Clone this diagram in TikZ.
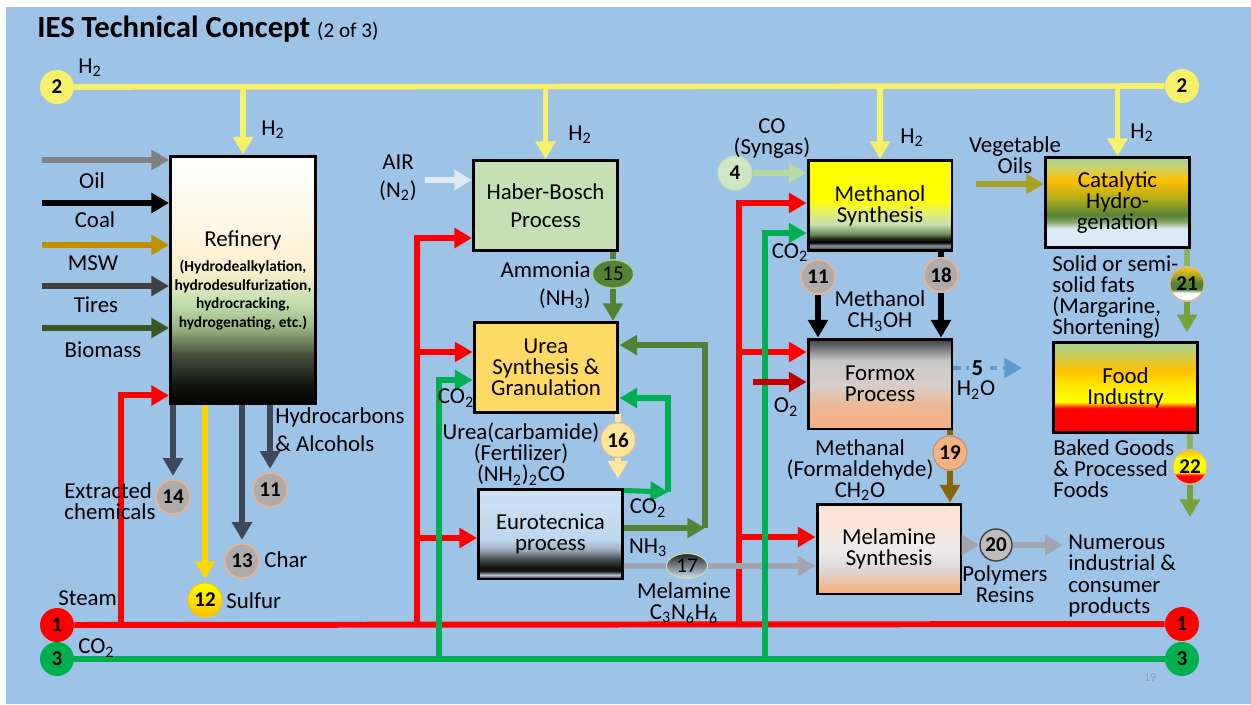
\documentclass[tikz,border=0pt]{standalone}
\usepackage{fontspec}
\setmainfont{Carlito}
\usetikzlibrary{arrows.meta,positioning,shapes.geometric}

\newcommand{\chemsub}[1]{\textsubscript{#1}}

\definecolor{bgblue}{RGB}{157,195,230}
\definecolor{hyellow}{RGB}{247,241,105}
\definecolor{steamred}{RGB}{255,0,0}
\definecolor{cogreen}{RGB}{0,176,80}
\definecolor{nhgreen}{RGB}{84,130,53}
\definecolor{nhlight}{RGB}{169,209,142}
\definecolor{slate}{RGB}{62,72,88}
\definecolor{numgray}{RGB}{175,171,171}
\definecolor{peach}{RGB}{244,177,131}
\definecolor{oilgray}{RGB}{128,128,128}
\definecolor{mswgold}{RGB}{191,144,0}
\definecolor{tiregray}{RGB}{64,64,64}
\definecolor{biogreen}{RGB}{56,87,35}
\definecolor{sulfury}{RGB}{255,212,0}
\definecolor{goldc}{RGB}{255,192,0}
\definecolor{hbgreen}{RGB}{197,224,180}
\definecolor{ureayellow}{RGB}{255,217,102}
\definecolor{paleorange}{RGB}{255,230,153}
\definecolor{o2red}{RGB}{192,0,0}
\definecolor{waterblue}{RGB}{91,155,213}
\definecolor{brownarr}{RGB}{140,100,0}
\definecolor{airwhite}{RGB}{222,235,247}
\definecolor{melgray}{RGB}{160,165,175}
\definecolor{colight}{RGB}{185,218,165}
\definecolor{vegolive}{RGB}{170,160,40}
\definecolor{fatgreen}{RGB}{120,160,60}
\definecolor{pagegray}{RGB}{140,160,185}

% colour stops of the box shadings
\definecolor{refA}{RGB}{20,22,18}
\definecolor{refB}{RGB}{70,80,60}
\definecolor{refC}{RGB}{150,175,125}
\definecolor{refD}{RGB}{190,220,170}
\definecolor{refE}{RGB}{250,240,205}
\definecolor{refF}{RGB}{254,246,225}
\definecolor{methA}{RGB}{40,40,40}
\definecolor{methB}{RGB}{140,150,160}
\definecolor{methC}{RGB}{30,35,25}
\definecolor{methD}{RGB}{110,140,90}
\definecolor{methE}{RGB}{197,224,180}
\definecolor{methF}{RGB}{230,240,100}
\definecolor{euroA}{RGB}{190,205,220}
\definecolor{euroB}{RGB}{20,20,20}
\definecolor{euroC}{RGB}{70,75,80}
\definecolor{euroD}{RGB}{160,175,190}
\definecolor{euroE}{RGB}{189,215,238}
\definecolor{euroF}{RGB}{205,225,244}
\definecolor{formA}{RGB}{244,177,131}
\definecolor{formB}{RGB}{240,182,142}
\definecolor{formC}{RGB}{215,205,200}
\definecolor{formD}{RGB}{200,200,200}
\definecolor{formE}{RGB}{75,75,75}
\definecolor{melA}{RGB}{244,177,131}
\definecolor{melB}{RGB}{240,188,150}
\definecolor{melC}{RGB}{222,214,212}
\definecolor{melD}{RGB}{236,234,238}
\definecolor{melE}{RGB}{251,229,214}
\definecolor{catA}{RGB}{222,235,247}
\definecolor{catB}{RGB}{140,170,110}
\definecolor{catC}{RGB}{84,130,53}
\definecolor{catD}{RGB}{170,170,30}
\definecolor{catE}{RGB}{255,192,0}
\definecolor{catF}{RGB}{200,210,110}
\definecolor{catG}{RGB}{169,209,142}
\definecolor{foodB}{RGB}{255,255,0}
\definecolor{foodC}{RGB}{255,230,0}
\definecolor{foodD}{RGB}{255,192,0}
\definecolor{foodE}{RGB}{169,209,142}

\pgfdeclareverticalshading{refshade}{100bp}{color(0bp)=(black); color(25bp)=(black);
  color(29bp)=(refA); color(35bp)=(refB); color(40bp)=(refC); color(45bp)=(refD);
  color(52bp)=(refE); color(60bp)=(refF); color(74bp)=(white); color(100bp)=(white)}
\pgfdeclareverticalshading{methshade}{100bp}{color(0bp)=(methA); color(25bp)=(methA);
  color(27.7bp)=(methB); color(29.5bp)=(black); color(31.5bp)=(methC); color(34.2bp)=(methD);
  color(39.7bp)=(methE); color(46.7bp)=(methF); color(53.3bp)=(yellow); color(100bp)=(yellow)}
\pgfdeclareverticalshading{euroshade}{100bp}{color(0bp)=(black); color(25bp)=(black);
  color(27.2bp)=(euroA); color(29.4bp)=(euroB); color(31.6bp)=(euroB); color(36bp)=(euroC);
  color(41.5bp)=(euroD); color(47bp)=(euroE); color(75bp)=(euroF); color(100bp)=(euroF)}
\pgfdeclareverticalshading{formshade}{100bp}{color(0bp)=(formA); color(25bp)=(formA);
  color(35.9bp)=(formB); color(49.5bp)=(formC); color(63bp)=(formD); color(73.9bp)=(formE);
  color(100bp)=(formE)}
\pgfdeclareverticalshading{melshade}{100bp}{color(0bp)=(melA); color(25bp)=(melA);
  color(30bp)=(melB); color(38.3bp)=(melC); color(49.4bp)=(melD); color(63.3bp)=(melE);
  color(100bp)=(melE)}
\pgfdeclareverticalshading{catshade}{100bp}{color(0bp)=(catA); color(25bp)=(catA);
  color(35.7bp)=(catA); color(39bp)=(catB); color(43bp)=(catC); color(51.4bp)=(catD);
  color(62.6bp)=(catE); color(70bp)=(catF); color(73.9bp)=(catG); color(100bp)=(catG)}
\pgfdeclareverticalshading{foodshade}{100bp}{color(0bp)=(red); color(25bp)=(red);
  color(38.5bp)=(red); color(42bp)=(foodB); color(51.4bp)=(foodC); color(59.8bp)=(foodD);
  color(73.9bp)=(foodE); color(100bp)=(foodE)}
% stream number discs
\pgfdeclareverticalshading{fatnum}{100bp}{color(0bp)=(white); color(25bp)=(white);
  color(37bp)=(white); color(42bp)=(nhgreen); color(52bp)=(nhgreen); color(62bp)=(catD);
  color(75bp)=(goldc); color(100bp)=(goldc)}
\pgfdeclareverticalshading{foodnum}{100bp}{color(0bp)=(red); color(25bp)=(red);
  color(38bp)=(red); color(42bp)=(yellow); color(62bp)=(yellow); color(75bp)=(goldc);
  color(100bp)=(goldc)}

\begin{document}
\begin{tikzpicture}[x=0.02cm, y=-0.02cm,
    font=\fontsize{13}{12}\selectfont,
    lbl/.style={inner sep=0pt, align=center},
    lblleft/.style={inner sep=0pt, align=left},
    procbox/.style={draw=black, line width=1.7pt, align=center, inner sep=1pt,
                    minimum width=2.88cm, minimum height=1.8cm},
    numnode/.style={circle, minimum size=0.68cm, inner sep=0pt,
                    font=\fontsize{12}{12}\selectfont\bfseries},
    graynum/.style={numnode, fill=numgray, draw=peach, line width=0.8pt},
    flow/.style={line width=3.2pt},
    arrowed/.style={flow, -{Triangle[length=10pt,width=11pt]}},
    h2line/.style={flow, draw=hyellow},
    h2arr/.style={arrowed, draw=hyellow},
    steamline/.style={flow, line width=3.4pt, draw=steamred},
    steamarr/.style={arrowed, line width=3.4pt, draw=steamred},
    co2line/.style={flow, line width=2.9pt, draw=cogreen},
    co2arr/.style={arrowed, line width=2.9pt, draw=cogreen},
    outarr/.style={arrowed, draw=slate, shorten >=2pt}
  ]

  % background
  \fill[white] (0,0) rectangle (1251,704);
  \fill[bgblue] (6,7) rectangle (1251,704);
  \useasboundingbox (0,0) rectangle (1251,704);

  \node[anchor=base west, inner sep=0pt] (title) at (37,37)
    {\fontsize{17.5}{20}\selectfont\bfseries IES Technical Concept
     \fontsize{12}{14}\selectfont\mdseries(2 of 3)};

  % process boxes
  \node[procbox, shade, shading=refshade, minimum width=2.9cm, minimum height=4.96cm,
        font=\fontsize{8.8}{10.5}\selectfont\bfseries]
    (ref) at (243,280)
    {{\fontsize{13}{12}\selectfont\mdseries Refinery}\\[4pt](Hydrodealkylation,\\
     hydrodesulfurization,\\hydrocracking,\\hydrogenating, etc.)};
  \node[procbox, fill=hbgreen]                 (hb)     at (545.5,205.5) {Haber-Bosch\\[4pt]Process};
  \node[procbox, fill=ureayellow]              (urea)   at (546,367.5)   {Urea\\Synthesis \&\\Granulation};
  \node[procbox, shade, shading=euroshade]     (euro)   at (550.5,534)   {Eurotecnica\\process};
  \node[procbox, shade, shading=methshade]     (meth)   at (880,205.5)   {Methanol\\Synthesis};
  \node[procbox, shade, shading=formshade]     (formox) at (880,384)     {Formox\\Process};
  \node[procbox, shade, shading=melshade]      (mel)    at (889,549)     {Melamine\\Synthesis};
  \node[procbox, shade, shading=catshade]      (cat)    at (1117.5,202.5) {Catalytic\\Hydro-\\genation};
  \node[procbox, shade, shading=foodshade]     (food)   at (1125.5,387.5) {Food\\Industry};

  % utility headers
  \node[numnode, fill=hyellow]  (c2L) at (57,87)    {2};
  \node[numnode, fill=hyellow]  (c2R) at (1182,86)  {2};
  \node[numnode, fill=steamred] (c1L) at (57,625)   {1};
  \node[numnode, fill=steamred] (c1R) at (1182,624) {1};
  \node[numnode, fill=cogreen]  (c3L) at (57,659)   {3};
  \node[numnode, fill=cogreen]  (c3R) at (1182,659) {3};

  % stream numbers
  \node[graynum] (c14)  at (173,497) {14};
  \node[numnode, top color=yellow, bottom color=goldc, draw=goldc, line width=0.6pt] (c12) at (205,600) {12};
  \node[graynum] (c13)  at (242,561) {13};
  \node[graynum] (c11a) at (270,490) {11};
  \node[ellipse, minimum width=0.82cm, minimum height=0.56cm, inner sep=0pt, fill=nhgreen,
        draw=nhlight, line width=0.6pt, font=\fontsize{12}{12}\selectfont] (c15) at (613,274) {15};
  \node[numnode, fill=paleorange, draw=peach!60!paleorange, line width=0.6pt] (c16) at (618,440) {16};
  \node[ellipse, minimum width=0.82cm, minimum height=0.5cm, inner sep=0pt,
        top color=black!85, bottom color=euroF, draw=methE, line width=0.6pt,
        font=\fontsize{12}{12}\selectfont] (c17) at (687,566) {17};
  \node[numnode, fill=hbgreen!80!white, draw=hbgreen, line width=0.6pt] (c4) at (735,173) {4};
  \node[graynum] (c11b) at (818,277) {11};
  \node[graynum] (c18)  at (941,275) {18};
  \node[numnode, fill=peach, draw=peach!80!black, line width=0.6pt] (c19) at (950,453) {19};
  \node[numnode, minimum size=0.64cm, fill=numgray!80!white, draw=tiregray, line width=0.8pt] (c20) at (996,545) {20};
  \node[numnode, shade, shading=fatnum, draw=peach, line width=0.6pt] (c21) at (1187,284) {21};
  \node[numnode, shade, shading=foodnum, draw=peach, line width=0.6pt] (c22) at (1190,467) {22};

  % free ends
  \coordinate (oilin)   at (42,160);
  \coordinate (coalin)  at (42,203);
  \coordinate (mswin)   at (42,245);
  \coordinate (tirein)  at (42,286);
  \coordinate (bioin)   at (42,328);
  \coordinate (st1)     at (121,625);
  \coordinate (st2)     at (417,625);
  \coordinate (st3)     at (739,625);
  \coordinate (co2a)    at (439,659);
  \coordinate (co2b)    at (765,659);
  \coordinate (airin)   at (425,180);
  \coordinate (cl1)     at (668,492);
  \coordinate (nl1)     at (705,528);
  \coordinate (o2in)    at (753,382);
  \coordinate (h2oout)  at (1022,368);
  \coordinate (vegin)   at (976,184);
  \coordinate (bakeout) at (1190,517);

  % hydrogen header
  \draw[h2line] (c2L) -- (c2R);
  \foreach \b in {ref,hb,meth,cat}
    \draw[h2arr] (\b.north |- c2L) -- (\b.north);

  % steam header
  \draw[steamline] (c1L) -- (c1R);
  \draw[steamarr] (st1) |- ([yshift=0.2cm]ref.south west);
  \draw[steamarr] (st2) |- ([yshift=-0.65cm]hb.west);
  \draw[steamarr] (st2) |- ([yshift=0.31cm]urea.west);
  \draw[steamarr] (st2) |- ([yshift=-0.08cm]euro.west);
  \draw[steamarr] (st3) |- ([yshift=0.05cm]meth.west);
  \draw[steamarr] (st3) |- ([yshift=0.64cm]formox.west);
  \draw[steamarr] (st3) |- ([yshift=0.24cm]mel.west);

  % melamine to synthesis
  \draw[flow, draw=melgray] ([yshift=-0.64cm]euro.east) -- (c17);
  \draw[arrowed, draw=melgray] (c17) -- (mel.west |- c17);

  % CO2 header
  \draw[co2line] (c3L) -- (c3R);
  \draw[co2arr] (co2a) |- ([yshift=-0.25cm]urea.west);
  \draw[co2arr] (co2b) |- ([yshift=-0.55cm]meth.west);

  % refinery feeds and products
  \draw[arrowed, draw=oilgray]  (oilin)  -- (ref.west |- oilin);
  \draw[arrowed, draw=black]    (coalin) -- (ref.west |- coalin);
  \draw[arrowed, draw=mswgold]  (mswin)  -- (ref.west |- mswin);
  \draw[arrowed, draw=tiregray] (tirein) -- (ref.west |- tirein);
  \draw[arrowed, draw=biogreen] (bioin)  -- (ref.west |- bioin);
  \draw[outarr] (ref.south -| c14)  -- (c14);
  \draw[outarr, draw=sulfury] (ref.south -| c12) -- (c12);
  \draw[outarr] (ref.south -| c13)  -- (c13);
  \draw[outarr] (ref.south -| c11a) -- (c11a);

  % ammonia and urea
  \draw[arrowed, draw=airwhite] (airin) -- (hb.west |- airin);
  \draw[flow, draw=nhgreen] (hb.south -| c15) -- (c15);
  \draw[arrowed, draw=nhgreen] (c15) -- (urea.north -| c15);
  \draw[flow, draw=paleorange] (urea.south -| c16) -- (c16);
  \draw[arrowed, draw=paleorange, shorten >=5pt] (c16) -- (euro.north -| c16);
  \draw[co2arr] ([yshift=-0.06cm]euro.north east) -- (cl1);
  \draw[co2arr] (cl1) |- ([yshift=-0.61cm]urea.east);
  \draw[arrowed, draw=nhgreen] ([yshift=0.12cm]euro.east) -- (nl1);
  \draw[arrowed, draw=nhgreen] (nl1) |- ([yshift=0.45cm]urea.east);

  % methanol and formaldehyde
  \draw[arrowed, draw=colight] (c4) -- (meth.west |- c4);
  \draw[arrowed, draw=black] (c11b) -- (formox.north -| c11b);
  \draw[flow, draw=black] (meth.south -| c18) -- (c18);
  \draw[arrowed, draw=black] (c18) -- (formox.north -| c18);
  \draw[arrowed, draw=o2red] (o2in) -- (formox.west |- o2in);
  \draw[arrowed, draw=waterblue, line width=2.6pt, dash pattern=on 4pt off 3pt]
    (formox.east |- h2oout) -- (h2oout)
    node[pos=0.35, fill=bgblue, inner sep=1.5pt, font=\fontsize{13}{13}\selectfont\bfseries] (w5) {5};
  \draw[flow, draw=brownarr] (formox.south -| c19) -- (c19);
  \draw[arrowed, draw=brownarr] (c19) -- (mel.north -| c19);

  % food chain
  \draw[arrowed, draw=vegolive] (vegin) -- (cat.west |- vegin);
  \draw[flow, draw=fatgreen!60!nhlight] (cat.south -| c21) -- (c21);
  \draw[arrowed, draw=fatgreen, shorten >=5pt] (c21) -- (food.north -| c21);
  \draw[flow, draw=fatgreen!60!nhlight] (food.south -| c22) -- (c22);
  \draw[arrowed, draw=fatgreen] (c22) -- (bakeout);

  % labels
  \node[lbl] (h2top) at (90,68)    {H\chemsub{2}};
  \node[lbl] (h2a)   at (273,130)  {H\chemsub{2}};
  \node[lbl] (h2b)   at (580,135)  {H\chemsub{2}};
  \node[lbl] (h2c)   at (912,138)  {H\chemsub{2}};
  \node[lbl] (h2d)   at (1142,133) {H\chemsub{2}};
  \node[lbl] (oillbl)  at (92,181)  {Oil};
  \node[lbl] (coallbl) at (95,220)  {Coal};
  \node[lbl] (mswlbl)  at (93,263)  {MSW};
  \node[lbl] (tirelbl) at (96,305)  {Tires};
  \node[lbl] (biolbl)  at (103,350) {Biomass};
  \node[lbl] (airlbl)  at (398,178) {AIR\\[4pt](N\chemsub{2})};
  \node[lblleft, anchor=west] (hclbl)  at (275,430) {Hydrocarbons\\[4pt]\& Alcohols};
  \node[lblleft, anchor=west] (extlbl) at (64,501)  {Extracted\\chemicals};
  \node[lblleft, anchor=west] (charlbl)   at (264,560) {Char};
  \node[lblleft, anchor=west] (sulfurlbl) at (226,601) {Sulfur};
  \node[lblleft, anchor=west] (steamlbl)  at (58,598)  {Steam};
  \node[lblleft, anchor=west] (co2lbl)    at (78,648)  {CO\chemsub{2}};
  \node[align=right, inner sep=0pt, anchor=east] (ammlbl) at (591,285) {Ammonia\\[4pt](NH\chemsub{3})};
  \node[lbl] (co2u)  at (456,398) {CO\chemsub{2}};
  \node[lbl] (urealbl) at (521,454) {Urea(carbamide)\\(Fertilizer)\\(NH\chemsub{2})\chemsub{2}CO};
  \node[lbl] (co2e)  at (648,508) {CO\chemsub{2}};
  \node[lbl] (nh3e)  at (648,548) {NH\chemsub{3}};
  \node[lbl] (mellbl) at (684,603) {Melamine\\C\chemsub{3}N\chemsub{6}H\chemsub{6}};
  \node[lbl] (colbl) at (772,139) {CO\\(Syngas)};
  \node[lbl] (co2m)  at (790,253) {CO\chemsub{2}};
  \node[lbl] (meohlbl) at (880,311) {Methanol\\CH\chemsub{3}OH};
  \node[lbl] (o2lbl) at (786,407) {O\chemsub{2}};
  \node[lbl] (h2olbl) at (976,390) {H\chemsub{2}O};
  \node[lbl] (methanallbl) at (860,470) {Methanal\\(Formaldehyde)\\CH\chemsub{2}O};
  \node[lbl] (polylbl) at (1005,584) {Polymers\\Resins};
  \node[lblleft, anchor=west] (prodlbl) at (1068,576)
    {Numerous\\industrial \&\\consumer\\products};
  \draw[arrowed, draw=melgray] (mel.east |- c20) -- (c20);
  \draw[arrowed, draw=melgray, shorten >=3pt] (c20) -- (prodlbl.west |- c20);
  \node[lbl] (veglbl) at (1015,155) {Vegetable\\Oils};
  \node[lblleft, anchor=west] (fatlbl) at (1052,297)
    {Solid or semi-\\solid fats\\(Margarine,\\Shortening)};
  \node[lblleft, anchor=west] (bakelbl) at (1053,469)
    {Baked Goods\\\& Processed\\Foods};
  \node[lbl, text=pagegray, font=\fontsize{7}{7}\selectfont] (pagelbl) at (1150,677) {19};
\end{tikzpicture}
\end{document}
